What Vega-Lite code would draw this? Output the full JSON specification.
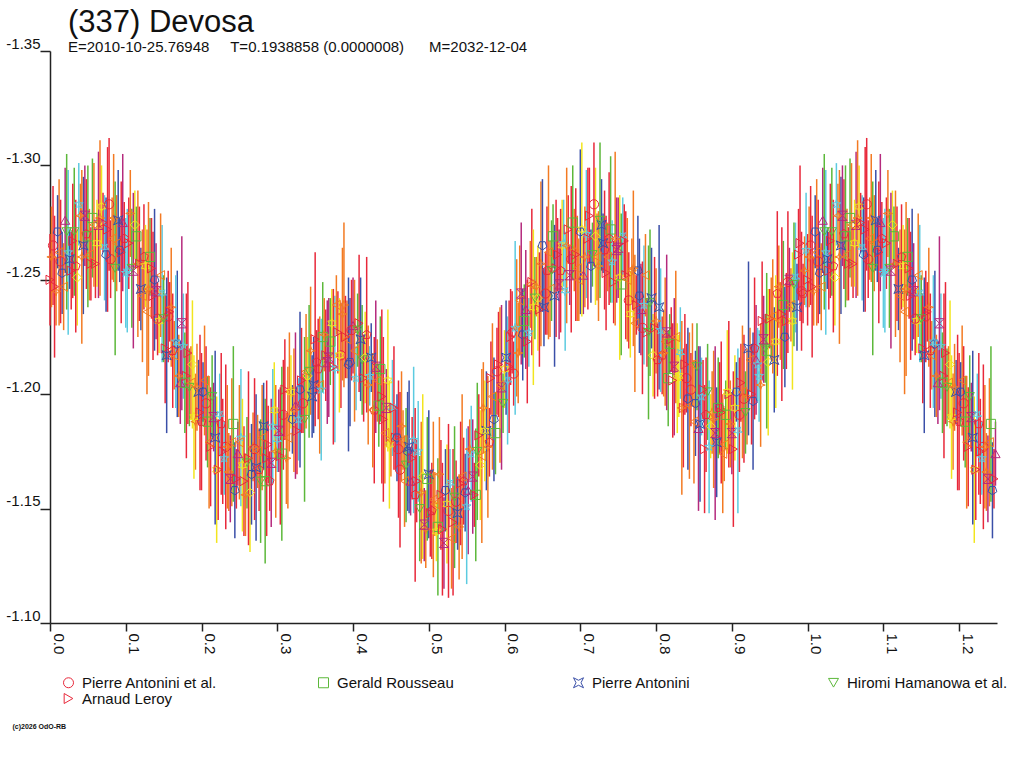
{
  "$schema": "https://vega.github.io/schema/vega-lite/v6.json",
  "width": 947,
  "height": 572,
  "autosize": {"type": "none"},
  "padding": {"left": 50, "top": 51, "right": 27, "bottom": 145},
  "background": "white",
  "config": {
    "view": {"stroke": null},
    "font": "Liberation Sans",
    "axis": {"domainColor": "#222", "domainWidth": 1.5, "tickColor": "#222", "tickWidth": 1.5, "labelColor": "#111", "labelFont": "Liberation Sans", "labelFontSize": 15, "grid": false}
  },
  "title": {
    "text": "(337) Devosa",
    "subtitle": "E=2010-10-25.76948\u00a0\u00a0\u00a0\u00a0\u00a0T=0.1938858 (0.0000008)\u00a0\u00a0\u00a0\u00a0\u00a0\u00a0M=2032-12-04",
    "anchor": "start",
    "frame": "group",
    "dx": 18,
    "offset": -20,
    "font": "Liberation Sans",
    "fontSize": 31,
    "fontWeight": "normal",
    "color": "#111",
    "subtitleFont": "Liberation Sans",
    "subtitleFontSize": 15,
    "subtitleColor": "#111",
    "subtitlePadding": 1
  },
  "data": {
    "values": [
      {"p":0.000,"m":-1.250,"e":0.020,"s":"r"},{"p":0.004,"m":-1.265,"e":0.026,"s":"a"},{"p":0.008,"m":-1.245,"e":0.015,"s":"e"},{"p":0.012,"m":-1.262,"e":0.032,"s":"n"},
      {"p":0.016,"m":-1.253,"e":0.018,"s":"k"},{"p":0.020,"m":-1.276,"e":0.023,"s":"g"},{"p":0.024,"m":-1.262,"e":0.036,"s":"d"},{"p":0.028,"m":-1.254,"e":0.017,"s":"r"},
      {"p":0.032,"m":-1.271,"e":0.028,"s":"i"},{"p":0.036,"m":-1.251,"e":0.021,"s":"c"},{"p":0.040,"m":-1.278,"e":0.014,"s":"e"},{"p":0.044,"m":-1.265,"e":0.030,"s":"f"},
      {"p":0.048,"m":-1.270,"e":0.024,"s":"h"},{"p":0.052,"m":-1.261,"e":0.020,"s":"n"},{"p":0.056,"m":-1.277,"e":0.026,"s":"b"},{"p":0.060,"m":-1.257,"e":0.015,"s":"r"},
      {"p":0.064,"m":-1.274,"e":0.032,"s":"l"},{"p":0.068,"m":-1.282,"e":0.018,"s":"j"},{"p":0.072,"m":-1.264,"e":0.023,"s":"m"},{"p":0.076,"m":-1.272,"e":0.036,"s":"r"},
      {"p":0.080,"m":-1.259,"e":0.017,"s":"a"},{"p":0.084,"m":-1.277,"e":0.028,"s":"e"},{"p":0.088,"m":-1.266,"e":0.021,"s":"n"},{"p":0.092,"m":-1.263,"e":0.014,"s":"k"},
      {"p":0.096,"m":-1.275,"e":0.030,"s":"g"},{"p":0.100,"m":-1.253,"e":0.024,"s":"d"},{"p":0.104,"m":-1.266,"e":0.020,"s":"r"},{"p":0.108,"m":-1.255,"e":0.026,"s":"i"},
      {"p":0.112,"m":-1.274,"e":0.015,"s":"c"},{"p":0.116,"m":-1.257,"e":0.032,"s":"e"},{"p":0.120,"m":-1.246,"e":0.018,"s":"f"},{"p":0.124,"m":-1.260,"e":0.023,"s":"h"},
      {"p":0.128,"m":-1.236,"e":0.036,"s":"n"},{"p":0.132,"m":-1.260,"e":0.017,"s":"b"},{"p":0.136,"m":-1.243,"e":0.028,"s":"r"},{"p":0.140,"m":-1.245,"e":0.021,"s":"l"},
      {"p":0.144,"m":-1.232,"e":0.014,"s":"j"},{"p":0.148,"m":-1.244,"e":0.030,"s":"m"},{"p":0.152,"m":-1.220,"e":0.024,"s":"r"},{"p":0.156,"m":-1.234,"e":0.020,"s":"a"},
      {"p":0.160,"m":-1.238,"e":0.026,"s":"e"},{"p":0.164,"m":-1.217,"e":0.015,"s":"n"},{"p":0.168,"m":-1.222,"e":0.032,"s":"k"},{"p":0.172,"m":-1.205,"e":0.018,"s":"g"},
      {"p":0.176,"m":-1.221,"e":0.023,"s":"d"},{"p":0.180,"m":-1.208,"e":0.036,"s":"r"},{"p":0.184,"m":-1.203,"e":0.017,"s":"i"},{"p":0.188,"m":-1.213,"e":0.028,"s":"c"},
      {"p":0.192,"m":-1.188,"e":0.021,"s":"e"},{"p":0.196,"m":-1.201,"e":0.014,"s":"f"},{"p":0.200,"m":-1.188,"e":0.030,"s":"h"},{"p":0.204,"m":-1.206,"e":0.024,"s":"n"},
      {"p":0.208,"m":-1.188,"e":0.020,"s":"b"},{"p":0.212,"m":-1.177,"e":0.026,"s":"r"},{"p":0.216,"m":-1.190,"e":0.015,"s":"l"},{"p":0.220,"m":-1.167,"e":0.032,"s":"j"},
      {"p":0.224,"m":-1.191,"e":0.018,"s":"m"},{"p":0.228,"m":-1.175,"e":0.023,"s":"r"},{"p":0.232,"m":-1.177,"e":0.036,"s":"a"},{"p":0.236,"m":-1.166,"e":0.017,"s":"e"},
      {"p":0.240,"m":-1.179,"e":0.028,"s":"n"},{"p":0.244,"m":-1.158,"e":0.021,"s":"k"},{"p":0.248,"m":-1.174,"e":0.014,"s":"g"},{"p":0.252,"m":-1.181,"e":0.030,"s":"d"},
      {"p":0.256,"m":-1.162,"e":0.024,"s":"r"},{"p":0.260,"m":-1.170,"e":0.020,"s":"i"},{"p":0.264,"m":-1.157,"e":0.026,"s":"c"},{"p":0.268,"m":-1.177,"e":0.015,"s":"e"},
      {"p":0.272,"m":-1.168,"e":0.032,"s":"f"},{"p":0.276,"m":-1.167,"e":0.018,"s":"h"},{"p":0.280,"m":-1.181,"e":0.023,"s":"n"},{"p":0.284,"m":-1.162,"e":0.036,"s":"b"},
      {"p":0.288,"m":-1.178,"e":0.017,"s":"r"},{"p":0.292,"m":-1.170,"e":0.028,"s":"l"},{"p":0.296,"m":-1.193,"e":0.021,"s":"j"},{"p":0.300,"m":-1.180,"e":0.014,"s":"m"},
      {"p":0.304,"m":-1.173,"e":0.030,"s":"r"},{"p":0.308,"m":-1.191,"e":0.024,"s":"a"},{"p":0.312,"m":-1.172,"e":0.020,"s":"e"},{"p":0.316,"m":-1.201,"e":0.026,"s":"n"},
      {"p":0.320,"m":-1.189,"e":0.015,"s":"k"},{"p":0.324,"m":-1.195,"e":0.032,"s":"g"},{"p":0.328,"m":-1.189,"e":0.018,"s":"d"},{"p":0.332,"m":-1.206,"e":0.023,"s":"r"},
      {"p":0.336,"m":-1.189,"e":0.036,"s":"i"},{"p":0.340,"m":-1.208,"e":0.017,"s":"c"},{"p":0.344,"m":-1.219,"e":0.028,"s":"e"},{"p":0.348,"m":-1.204,"e":0.021,"s":"f"},
      {"p":0.352,"m":-1.214,"e":0.014,"s":"h"},{"p":0.356,"m":-1.204,"e":0.030,"s":"n"},{"p":0.360,"m":-1.225,"e":0.024,"s":"b"},{"p":0.364,"m":-1.217,"e":0.020,"s":"r"},
      {"p":0.368,"m":-1.216,"e":0.026,"s":"l"},{"p":0.372,"m":-1.231,"e":0.015,"s":"j"},{"p":0.376,"m":-1.211,"e":0.032,"s":"m"},{"p":0.380,"m":-1.227,"e":0.018,"s":"r"},
      {"p":0.384,"m":-1.217,"e":0.023,"s":"a"},{"p":0.388,"m":-1.239,"e":0.036,"s":"e"},{"p":0.392,"m":-1.224,"e":0.017,"s":"n"},{"p":0.396,"m":-1.214,"e":0.028,"s":"k"},
      {"p":0.400,"m":-1.230,"e":0.021,"s":"g"},{"p":0.404,"m":-1.207,"e":0.014,"s":"d"},{"p":0.408,"m":-1.231,"e":0.030,"s":"r"},{"p":0.412,"m":-1.215,"e":0.024,"s":"i"},
      {"p":0.416,"m":-1.216,"e":0.020,"s":"c"},{"p":0.420,"m":-1.204,"e":0.026,"s":"e"},{"p":0.424,"m":-1.216,"e":0.015,"s":"f"},{"p":0.428,"m":-1.193,"e":0.032,"s":"h"},
      {"p":0.432,"m":-1.206,"e":0.018,"s":"n"},{"p":0.436,"m":-1.211,"e":0.023,"s":"b"},{"p":0.440,"m":-1.189,"e":0.036,"s":"r"},{"p":0.444,"m":-1.194,"e":0.017,"s":"l"},
      {"p":0.448,"m":-1.178,"e":0.028,"s":"j"},{"p":0.452,"m":-1.194,"e":0.021,"s":"m"},{"p":0.456,"m":-1.181,"e":0.014,"s":"r"},{"p":0.460,"m":-1.176,"e":0.030,"s":"a"},
      {"p":0.464,"m":-1.186,"e":0.024,"s":"e"},{"p":0.468,"m":-1.162,"e":0.020,"s":"n"},{"p":0.472,"m":-1.175,"e":0.026,"s":"k"},{"p":0.476,"m":-1.162,"e":0.015,"s":"g"},
      {"p":0.480,"m":-1.180,"e":0.032,"s":"d"},{"p":0.484,"m":-1.162,"e":0.018,"s":"r"},{"p":0.488,"m":-1.150,"e":0.023,"s":"i"},{"p":0.492,"m":-1.164,"e":0.036,"s":"c"},
      {"p":0.496,"m":-1.141,"e":0.017,"s":"e"},{"p":0.500,"m":-1.165,"e":0.028,"s":"f"},{"p":0.504,"m":-1.149,"e":0.021,"s":"h"},{"p":0.508,"m":-1.152,"e":0.014,"s":"n"},
      {"p":0.512,"m":-1.142,"e":0.030,"s":"b"},{"p":0.516,"m":-1.156,"e":0.024,"s":"r"},{"p":0.520,"m":-1.135,"e":0.020,"s":"l"},{"p":0.524,"m":-1.152,"e":0.026,"s":"j"},
      {"p":0.528,"m":-1.161,"e":0.015,"s":"m"},{"p":0.532,"m":-1.144,"e":0.032,"s":"r"},{"p":0.536,"m":-1.153,"e":0.018,"s":"a"},{"p":0.540,"m":-1.142,"e":0.023,"s":"e"},
      {"p":0.544,"m":-1.164,"e":0.036,"s":"n"},{"p":0.548,"m":-1.157,"e":0.017,"s":"k"},{"p":0.552,"m":-1.158,"e":0.028,"s":"g"},{"p":0.556,"m":-1.174,"e":0.021,"s":"d"},
      {"p":0.560,"m":-1.156,"e":0.014,"s":"r"},{"p":0.564,"m":-1.175,"e":0.030,"s":"i"},{"p":0.568,"m":-1.169,"e":0.024,"s":"c"},{"p":0.572,"m":-1.194,"e":0.020,"s":"e"},
      {"p":0.576,"m":-1.184,"e":0.026,"s":"f"},{"p":0.580,"m":-1.179,"e":0.015,"s":"h"},{"p":0.584,"m":-1.199,"e":0.032,"s":"n"},{"p":0.588,"m":-1.183,"e":0.018,"s":"b"},
      {"p":0.592,"m":-1.213,"e":0.023,"s":"r"},{"p":0.596,"m":-1.203,"e":0.036,"s":"l"},{"p":0.600,"m":-1.211,"e":0.017,"s":"j"},{"p":0.604,"m":-1.206,"e":0.028,"s":"m"},
      {"p":0.608,"m":-1.225,"e":0.021,"s":"r"},{"p":0.612,"m":-1.209,"e":0.014,"s":"a"},{"p":0.616,"m":-1.229,"e":0.030,"s":"e"},{"p":0.620,"m":-1.241,"e":0.024,"s":"n"},
      {"p":0.624,"m":-1.226,"e":0.020,"s":"k"},{"p":0.628,"m":-1.237,"e":0.026,"s":"g"},{"p":0.632,"m":-1.227,"e":0.015,"s":"d"},{"p":0.636,"m":-1.249,"e":0.032,"s":"r"},
      {"p":0.640,"m":-1.242,"e":0.018,"s":"i"},{"p":0.644,"m":-1.242,"e":0.023,"s":"c"},{"p":0.648,"m":-1.257,"e":0.036,"s":"e"},{"p":0.652,"m":-1.238,"e":0.017,"s":"f"},
      {"p":0.656,"m":-1.254,"e":0.028,"s":"h"},{"p":0.660,"m":-1.246,"e":0.021,"s":"n"},{"p":0.664,"m":-1.269,"e":0.014,"s":"b"},{"p":0.668,"m":-1.255,"e":0.030,"s":"r"},
      {"p":0.672,"m":-1.248,"e":0.024,"s":"l"},{"p":0.676,"m":-1.265,"e":0.020,"s":"j"},{"p":0.680,"m":-1.245,"e":0.026,"s":"m"},{"p":0.684,"m":-1.272,"e":0.015,"s":"r"},
      {"p":0.688,"m":-1.259,"e":0.032,"s":"a"},{"p":0.692,"m":-1.263,"e":0.018,"s":"e"},{"p":0.696,"m":-1.255,"e":0.023,"s":"n"},{"p":0.700,"m":-1.271,"e":0.036,"s":"k"},
      {"p":0.704,"m":-1.252,"e":0.017,"s":"g"},{"p":0.708,"m":-1.270,"e":0.028,"s":"d"},{"p":0.712,"m":-1.278,"e":0.021,"s":"r"},{"p":0.716,"m":-1.261,"e":0.014,"s":"i"},
      {"p":0.720,"m":-1.269,"e":0.030,"s":"c"},{"p":0.724,"m":-1.256,"e":0.024,"s":"e"},{"p":0.728,"m":-1.274,"e":0.020,"s":"f"},{"p":0.732,"m":-1.263,"e":0.026,"s":"h"},
      {"p":0.736,"m":-1.260,"e":0.015,"s":"n"},{"p":0.740,"m":-1.272,"e":0.032,"s":"b"},{"p":0.744,"m":-1.249,"e":0.018,"s":"r"},{"p":0.748,"m":-1.263,"e":0.023,"s":"l"},
      {"p":0.752,"m":-1.251,"e":0.036,"s":"j"},{"p":0.756,"m":-1.269,"e":0.017,"s":"m"},{"p":0.760,"m":-1.252,"e":0.028,"s":"r"},{"p":0.764,"m":-1.241,"e":0.021,"s":"a"},
      {"p":0.768,"m":-1.254,"e":0.014,"s":"e"},{"p":0.772,"m":-1.231,"e":0.030,"s":"n"},{"p":0.776,"m":-1.254,"e":0.024,"s":"k"},{"p":0.780,"m":-1.237,"e":0.020,"s":"g"},
      {"p":0.784,"m":-1.239,"e":0.026,"s":"d"},{"p":0.788,"m":-1.227,"e":0.015,"s":"r"},{"p":0.792,"m":-1.240,"e":0.032,"s":"i"},{"p":0.796,"m":-1.217,"e":0.018,"s":"c"},
      {"p":0.800,"m":-1.232,"e":0.023,"s":"e"},{"p":0.804,"m":-1.238,"e":0.036,"s":"f"},{"p":0.808,"m":-1.217,"e":0.017,"s":"h"},{"p":0.812,"m":-1.223,"e":0.028,"s":"n"},
      {"p":0.816,"m":-1.207,"e":0.021,"s":"b"},{"p":0.820,"m":-1.224,"e":0.014,"s":"r"},{"p":0.824,"m":-1.212,"e":0.030,"s":"l"},{"p":0.828,"m":-1.207,"e":0.024,"s":"j"},
      {"p":0.832,"m":-1.218,"e":0.020,"s":"m"},{"p":0.836,"m":-1.194,"e":0.026,"s":"r"},{"p":0.840,"m":-1.207,"e":0.015,"s":"a"},{"p":0.844,"m":-1.195,"e":0.032,"s":"e"},
      {"p":0.848,"m":-1.213,"e":0.018,"s":"n"},{"p":0.852,"m":-1.196,"e":0.023,"s":"k"},{"p":0.856,"m":-1.185,"e":0.036,"s":"g"},{"p":0.860,"m":-1.199,"e":0.017,"s":"d"},
      {"p":0.864,"m":-1.176,"e":0.028,"s":"r"},{"p":0.868,"m":-1.201,"e":0.021,"s":"i"},{"p":0.872,"m":-1.186,"e":0.014,"s":"c"},{"p":0.876,"m":-1.189,"e":0.030,"s":"e"},
      {"p":0.880,"m":-1.179,"e":0.024,"s":"f"},{"p":0.884,"m":-1.194,"e":0.020,"s":"h"},{"p":0.888,"m":-1.174,"e":0.026,"s":"n"},{"p":0.892,"m":-1.191,"e":0.015,"s":"b"},
      {"p":0.896,"m":-1.200,"e":0.032,"s":"r"},{"p":0.900,"m":-1.183,"e":0.018,"s":"l"},{"p":0.904,"m":-1.194,"e":0.023,"s":"j"},{"p":0.908,"m":-1.184,"e":0.036,"s":"m"},
      {"p":0.912,"m":-1.205,"e":0.017,"s":"r"},{"p":0.916,"m":-1.198,"e":0.028,"s":"a"},{"p":0.920,"m":-1.199,"e":0.021,"s":"e"},{"p":0.924,"m":-1.215,"e":0.014,"s":"n"},
      {"p":0.928,"m":-1.197,"e":0.030,"s":"k"},{"p":0.932,"m":-1.215,"e":0.024,"s":"g"},{"p":0.936,"m":-1.208,"e":0.020,"s":"d"},{"p":0.940,"m":-1.232,"e":0.026,"s":"r"},
      {"p":0.944,"m":-1.220,"e":0.015,"s":"i"},{"p":0.948,"m":-1.214,"e":0.032,"s":"c"},{"p":0.952,"m":-1.233,"e":0.018,"s":"e"},{"p":0.956,"m":-1.215,"e":0.023,"s":"f"},
      {"p":0.960,"m":-1.244,"e":0.036,"s":"h"},{"p":0.964,"m":-1.232,"e":0.017,"s":"n"},{"p":0.968,"m":-1.239,"e":0.028,"s":"b"},{"p":0.972,"m":-1.232,"e":0.021,"s":"r"},
      {"p":0.976,"m":-1.250,"e":0.014,"s":"l"},{"p":0.980,"m":-1.232,"e":0.030,"s":"j"},{"p":0.984,"m":-1.251,"e":0.024,"s":"m"},{"p":0.988,"m":-1.261,"e":0.020,"s":"r"},
      {"p":0.992,"m":-1.245,"e":0.026,"s":"a"},{"p":0.996,"m":-1.254,"e":0.015,"s":"e"},
      {"p":1.000,"m":-1.250,"e":0.020,"s":"r"},{"p":1.004,"m":-1.265,"e":0.026,"s":"a"},{"p":1.008,"m":-1.245,"e":0.015,"s":"e"},{"p":1.012,"m":-1.262,"e":0.032,"s":"n"},
      {"p":1.016,"m":-1.253,"e":0.018,"s":"k"},{"p":1.020,"m":-1.276,"e":0.023,"s":"g"},{"p":1.024,"m":-1.262,"e":0.036,"s":"d"},{"p":1.028,"m":-1.254,"e":0.017,"s":"r"},
      {"p":1.032,"m":-1.271,"e":0.028,"s":"i"},{"p":1.036,"m":-1.251,"e":0.021,"s":"c"},{"p":1.040,"m":-1.278,"e":0.014,"s":"e"},{"p":1.044,"m":-1.265,"e":0.030,"s":"f"},
      {"p":1.048,"m":-1.270,"e":0.024,"s":"h"},{"p":1.052,"m":-1.261,"e":0.020,"s":"n"},{"p":1.056,"m":-1.277,"e":0.026,"s":"b"},{"p":1.060,"m":-1.257,"e":0.015,"s":"r"},
      {"p":1.064,"m":-1.274,"e":0.032,"s":"l"},{"p":1.068,"m":-1.282,"e":0.018,"s":"j"},{"p":1.072,"m":-1.264,"e":0.023,"s":"m"},{"p":1.076,"m":-1.272,"e":0.036,"s":"r"},
      {"p":1.080,"m":-1.259,"e":0.017,"s":"a"},{"p":1.084,"m":-1.277,"e":0.028,"s":"e"},{"p":1.088,"m":-1.266,"e":0.021,"s":"n"},{"p":1.092,"m":-1.263,"e":0.014,"s":"k"},
      {"p":1.096,"m":-1.275,"e":0.030,"s":"g"},{"p":1.100,"m":-1.253,"e":0.024,"s":"d"},{"p":1.104,"m":-1.266,"e":0.020,"s":"r"},{"p":1.108,"m":-1.255,"e":0.026,"s":"i"},
      {"p":1.112,"m":-1.274,"e":0.015,"s":"c"},{"p":1.116,"m":-1.257,"e":0.032,"s":"e"},{"p":1.120,"m":-1.246,"e":0.018,"s":"f"},{"p":1.124,"m":-1.260,"e":0.023,"s":"h"},
      {"p":1.128,"m":-1.236,"e":0.036,"s":"n"},{"p":1.132,"m":-1.260,"e":0.017,"s":"b"},{"p":1.136,"m":-1.243,"e":0.028,"s":"r"},{"p":1.140,"m":-1.245,"e":0.021,"s":"l"},
      {"p":1.144,"m":-1.232,"e":0.014,"s":"j"},{"p":1.148,"m":-1.244,"e":0.030,"s":"m"},{"p":1.152,"m":-1.220,"e":0.024,"s":"r"},{"p":1.156,"m":-1.234,"e":0.020,"s":"a"},
      {"p":1.160,"m":-1.238,"e":0.026,"s":"e"},{"p":1.164,"m":-1.217,"e":0.015,"s":"n"},{"p":1.168,"m":-1.222,"e":0.032,"s":"k"},{"p":1.172,"m":-1.205,"e":0.018,"s":"g"},
      {"p":1.176,"m":-1.221,"e":0.023,"s":"d"},{"p":1.180,"m":-1.208,"e":0.036,"s":"r"},{"p":1.184,"m":-1.203,"e":0.017,"s":"i"},{"p":1.188,"m":-1.213,"e":0.028,"s":"c"},
      {"p":1.192,"m":-1.188,"e":0.021,"s":"e"},{"p":1.196,"m":-1.201,"e":0.014,"s":"f"},{"p":1.200,"m":-1.188,"e":0.030,"s":"h"},{"p":1.204,"m":-1.206,"e":0.024,"s":"n"},
      {"p":1.208,"m":-1.188,"e":0.020,"s":"b"},{"p":1.212,"m":-1.177,"e":0.026,"s":"r"},{"p":1.216,"m":-1.190,"e":0.015,"s":"l"},{"p":1.220,"m":-1.167,"e":0.032,"s":"j"},
      {"p":1.224,"m":-1.191,"e":0.018,"s":"m"},{"p":1.228,"m":-1.175,"e":0.023,"s":"r"},{"p":1.232,"m":-1.177,"e":0.036,"s":"a"},{"p":1.236,"m":-1.166,"e":0.017,"s":"e"},
      {"p":1.240,"m":-1.179,"e":0.028,"s":"n"},{"p":1.244,"m":-1.158,"e":0.021,"s":"k"},{"p":1.248,"m":-1.174,"e":0.014,"s":"g"},
      {"p":0.002,"m":-1.260,"e":0.022,"s":"e"},{"p":0.006,"m":-1.247,"e":0.031,"s":"r"},{"p":0.010,"m":-1.271,"e":0.016,"s":"k"},{"p":0.014,"m":-1.258,"e":0.027,"s":"a"},
      {"p":0.018,"m":-1.247,"e":0.019,"s":"n"},{"p":0.022,"m":-1.271,"e":0.034,"s":"i"},{"p":0.026,"m":-1.259,"e":0.013,"s":"f"},{"p":0.030,"m":-1.267,"e":0.025,"s":"r"},
      {"p":0.034,"m":-1.256,"e":0.029,"s":"h"},{"p":0.038,"m":-1.283,"e":0.018,"s":"d"},{"p":0.042,"m":-1.260,"e":0.038,"s":"e"},{"p":0.046,"m":-1.278,"e":0.022,"s":"l"},
      {"p":0.050,"m":-1.269,"e":0.031,"s":"b"},{"p":0.054,"m":-1.257,"e":0.016,"s":"r"},{"p":0.058,"m":-1.274,"e":0.027,"s":"n"},{"p":0.062,"m":-1.266,"e":0.019,"s":"j"},
      {"p":0.066,"m":-1.277,"e":0.034,"s":"e"},{"p":0.070,"m":-1.275,"e":0.013,"s":"r"},{"p":0.074,"m":-1.261,"e":0.025,"s":"k"},{"p":0.078,"m":-1.283,"e":0.029,"s":"a"},
      {"p":0.082,"m":-1.268,"e":0.018,"s":"n"},{"p":0.086,"m":-1.255,"e":0.038,"s":"i"},{"p":0.090,"m":-1.276,"e":0.022,"s":"f"},{"p":0.094,"m":-1.262,"e":0.031,"s":"r"},
      {"p":0.098,"m":-1.268,"e":0.016,"s":"h"},{"p":0.102,"m":-1.254,"e":0.027,"s":"d"},{"p":0.106,"m":-1.279,"e":0.019,"s":"e"},{"p":0.110,"m":-1.254,"e":0.034,"s":"l"},
      {"p":0.114,"m":-1.269,"e":0.013,"s":"b"},{"p":0.118,"m":-1.257,"e":0.025,"s":"r"},{"p":0.122,"m":-1.243,"e":0.029,"s":"n"},{"p":0.126,"m":-1.256,"e":0.018,"s":"j"},
      {"p":0.130,"m":-1.246,"e":0.038,"s":"e"},{"p":0.134,"m":-1.255,"e":0.022,"s":"r"},{"p":0.138,"m":-1.250,"e":0.031,"s":"k"},{"p":0.142,"m":-1.233,"e":0.016,"s":"a"},
      {"p":0.146,"m":-1.252,"e":0.027,"s":"n"},{"p":0.150,"m":-1.233,"e":0.019,"s":"i"},{"p":0.154,"m":-1.217,"e":0.034,"s":"f"},{"p":0.158,"m":-1.236,"e":0.013,"s":"r"},
      {"p":0.162,"m":-1.219,"e":0.025,"s":"h"},{"p":0.166,"m":-1.223,"e":0.029,"s":"d"},{"p":0.170,"m":-1.208,"e":0.018,"s":"e"},{"p":0.174,"m":-1.231,"e":0.038,"s":"l"},
      {"p":0.178,"m":-1.205,"e":0.022,"s":"b"},{"p":0.182,"m":-1.218,"e":0.031,"s":"r"},{"p":0.186,"m":-1.205,"e":0.016,"s":"n"},{"p":0.190,"m":-1.190,"e":0.027,"s":"j"},
      {"p":0.194,"m":-1.203,"e":0.019,"s":"e"},{"p":0.198,"m":-1.192,"e":0.034,"s":"r"},{"p":0.202,"m":-1.201,"e":0.013,"s":"k"},{"p":0.206,"m":-1.196,"e":0.025,"s":"a"},
      {"p":0.210,"m":-1.179,"e":0.029,"s":"n"},{"p":0.214,"m":-1.199,"e":0.018,"s":"i"},{"p":0.218,"m":-1.181,"e":0.038,"s":"f"},{"p":0.222,"m":-1.167,"e":0.022,"s":"r"},
      {"p":0.226,"m":-1.187,"e":0.031,"s":"h"},{"p":0.230,"m":-1.172,"e":0.016,"s":"d"},{"p":0.234,"m":-1.177,"e":0.027,"s":"e"},{"p":0.238,"m":-1.163,"e":0.019,"s":"l"},
      {"p":0.242,"m":-1.187,"e":0.034,"s":"b"},{"p":0.246,"m":-1.163,"e":0.013,"s":"r"},{"p":0.250,"m":-1.179,"e":0.025,"s":"n"},{"p":0.254,"m":-1.169,"e":0.029,"s":"j"},
      {"p":0.258,"m":-1.156,"e":0.018,"s":"e"},{"p":0.262,"m":-1.172,"e":0.038,"s":"r"},{"p":0.266,"m":-1.165,"e":0.022,"s":"k"},{"p":0.270,"m":-1.176,"e":0.031,"s":"a"},
      {"p":0.274,"m":-1.175,"e":0.016,"s":"n"},{"p":0.278,"m":-1.162,"e":0.027,"s":"i"},{"p":0.282,"m":-1.186,"e":0.019,"s":"f"},{"p":0.286,"m":-1.172,"e":0.034,"s":"r"},
      {"p":0.290,"m":-1.162,"e":0.013,"s":"h"},{"p":0.294,"m":-1.186,"e":0.025,"s":"d"},{"p":0.298,"m":-1.175,"e":0.029,"s":"e"},{"p":0.302,"m":-1.184,"e":0.018,"s":"l"},
      {"p":0.306,"m":-1.174,"e":0.038,"s":"b"},{"p":0.310,"m":-1.202,"e":0.022,"s":"r"},{"p":0.314,"m":-1.181,"e":0.031,"s":"n"},{"p":0.318,"m":-1.201,"e":0.016,"s":"j"},
      {"p":0.322,"m":-1.193,"e":0.027,"s":"e"},{"p":0.326,"m":-1.184,"e":0.019,"s":"r"},{"p":0.330,"m":-1.202,"e":0.034,"s":"k"},{"p":0.334,"m":-1.196,"e":0.013,"s":"a"},
      {"p":0.338,"m":-1.210,"e":0.025,"s":"n"},{"p":0.342,"m":-1.210,"e":0.029,"s":"i"},{"p":0.346,"m":-1.199,"e":0.018,"s":"f"},{"p":0.350,"m":-1.224,"e":0.038,"s":"r"},
      {"p":0.354,"m":-1.211,"e":0.022,"s":"h"},{"p":0.358,"m":-1.202,"e":0.031,"s":"d"},{"p":0.362,"m":-1.226,"e":0.016,"s":"e"},{"p":0.366,"m":-1.214,"e":0.027,"s":"l"},
      {"p":0.370,"m":-1.223,"e":0.019,"s":"b"},{"p":0.374,"m":-1.212,"e":0.034,"s":"r"},{"p":0.378,"m":-1.239,"e":0.013,"s":"n"},{"p":0.382,"m":-1.217,"e":0.025,"s":"j"},
      {"p":0.386,"m":-1.235,"e":0.029,"s":"e"},{"p":0.390,"m":-1.225,"e":0.018,"s":"r"},{"p":0.394,"m":-1.213,"e":0.038,"s":"k"},{"p":0.398,"m":-1.228,"e":0.022,"s":"a"},
      {"p":0.402,"m":-1.219,"e":0.031,"s":"n"},{"p":0.406,"m":-1.228,"e":0.016,"s":"i"},{"p":0.410,"m":-1.224,"e":0.027,"s":"f"},{"p":0.414,"m":-1.207,"e":0.019,"s":"r"},
      {"p":0.418,"m":-1.226,"e":0.034,"s":"h"},{"p":0.422,"m":-1.208,"e":0.013,"s":"d"},{"p":0.426,"m":-1.193,"e":0.025,"s":"e"},{"p":0.430,"m":-1.212,"e":0.029,"s":"l"},
      {"p":0.434,"m":-1.195,"e":0.018,"s":"b"},{"p":0.438,"m":-1.199,"e":0.038,"s":"r"},{"p":0.442,"m":-1.183,"e":0.022,"s":"n"},{"p":0.446,"m":-1.206,"e":0.031,"s":"j"},
      {"p":0.450,"m":-1.180,"e":0.016,"s":"e"},{"p":0.454,"m":-1.194,"e":0.027,"s":"r"},{"p":0.458,"m":-1.181,"e":0.019,"s":"k"},{"p":0.462,"m":-1.167,"e":0.034,"s":"a"},
      {"p":0.466,"m":-1.180,"e":0.013,"s":"n"},{"p":0.470,"m":-1.169,"e":0.025,"s":"i"},{"p":0.474,"m":-1.177,"e":0.029,"s":"f"},{"p":0.478,"m":-1.172,"e":0.018,"s":"r"},
      {"p":0.482,"m":-1.156,"e":0.038,"s":"h"},{"p":0.486,"m":-1.175,"e":0.022,"s":"d"},{"p":0.490,"m":-1.157,"e":0.031,"s":"e"},{"p":0.494,"m":-1.143,"e":0.016,"s":"l"},
      {"p":0.498,"m":-1.163,"e":0.027,"s":"b"},{"p":0.502,"m":-1.148,"e":0.019,"s":"r"},{"p":0.506,"m":-1.154,"e":0.034,"s":"n"},{"p":0.510,"m":-1.140,"e":0.013,"s":"j"},
      {"p":0.514,"m":-1.165,"e":0.025,"s":"e"},{"p":0.518,"m":-1.141,"e":0.029,"s":"r"},{"p":0.522,"m":-1.158,"e":0.018,"s":"k"},{"p":0.526,"m":-1.149,"e":0.038,"s":"a"},
      {"p":0.530,"m":-1.137,"e":0.022,"s":"n"},{"p":0.534,"m":-1.155,"e":0.031,"s":"i"},{"p":0.538,"m":-1.148,"e":0.016,"s":"f"},{"p":0.542,"m":-1.161,"e":0.027,"s":"r"},
      {"p":0.546,"m":-1.162,"e":0.019,"s":"h"},{"p":0.550,"m":-1.151,"e":0.034,"s":"d"},{"p":0.554,"m":-1.176,"e":0.013,"s":"e"},{"p":0.558,"m":-1.164,"e":0.025,"s":"l"},
      {"p":0.562,"m":-1.156,"e":0.029,"s":"b"},{"p":0.566,"m":-1.182,"e":0.018,"s":"r"},{"p":0.570,"m":-1.173,"e":0.038,"s":"n"},{"p":0.574,"m":-1.184,"e":0.022,"s":"j"},
      {"p":0.578,"m":-1.177,"e":0.031,"s":"e"},{"p":0.582,"m":-1.207,"e":0.016,"s":"r"},{"p":0.586,"m":-1.189,"e":0.027,"s":"k"},{"p":0.590,"m":-1.210,"e":0.019,"s":"a"},
      {"p":0.594,"m":-1.204,"e":0.034,"s":"n"},{"p":0.598,"m":-1.196,"e":0.013,"s":"i"},{"p":0.602,"m":-1.216,"e":0.025,"s":"f"},{"p":0.606,"m":-1.212,"e":0.029,"s":"r"},
      {"p":0.610,"m":-1.227,"e":0.018,"s":"h"},{"p":0.614,"m":-1.229,"e":0.038,"s":"d"},{"p":0.618,"m":-1.218,"e":0.022,"s":"e"},{"p":0.622,"m":-1.244,"e":0.031,"s":"l"},
      {"p":0.626,"m":-1.232,"e":0.016,"s":"b"},{"p":0.630,"m":-1.223,"e":0.027,"s":"r"},{"p":0.634,"m":-1.248,"e":0.019,"s":"n"},{"p":0.638,"m":-1.238,"e":0.034,"s":"j"},
      {"p":0.642,"m":-1.247,"e":0.013,"s":"e"},{"p":0.646,"m":-1.237,"e":0.025,"s":"r"},{"p":0.650,"m":-1.265,"e":0.029,"s":"k"},{"p":0.654,"m":-1.244,"e":0.018,"s":"a"},
      {"p":0.658,"m":-1.262,"e":0.038,"s":"n"},{"p":0.662,"m":-1.254,"e":0.022,"s":"i"},{"p":0.666,"m":-1.243,"e":0.031,"s":"f"},{"p":0.670,"m":-1.261,"e":0.016,"s":"r"},
      {"p":0.674,"m":-1.254,"e":0.027,"s":"h"},{"p":0.678,"m":-1.266,"e":0.019,"s":"d"},{"p":0.682,"m":-1.265,"e":0.034,"s":"e"},{"p":0.686,"m":-1.252,"e":0.013,"s":"l"},
      {"p":0.690,"m":-1.275,"e":0.025,"s":"b"},{"p":0.694,"m":-1.261,"e":0.029,"s":"r"},{"p":0.698,"m":-1.250,"e":0.018,"s":"n"},{"p":0.702,"m":-1.272,"e":0.038,"s":"j"},
      {"p":0.706,"m":-1.260,"e":0.022,"s":"e"},{"p":0.710,"m":-1.268,"e":0.031,"s":"r"},{"p":0.714,"m":-1.256,"e":0.016,"s":"k"},{"p":0.718,"m":-1.283,"e":0.027,"s":"a"},
      {"p":0.722,"m":-1.260,"e":0.019,"s":"n"},{"p":0.726,"m":-1.276,"e":0.034,"s":"i"},{"p":0.730,"m":-1.266,"e":0.013,"s":"f"},{"p":0.734,"m":-1.253,"e":0.025,"s":"r"},
      {"p":0.738,"m":-1.268,"e":0.029,"s":"h"},{"p":0.742,"m":-1.258,"e":0.018,"s":"d"},{"p":0.746,"m":-1.268,"e":0.038,"s":"e"},{"p":0.750,"m":-1.264,"e":0.022,"s":"l"},
      {"p":0.754,"m":-1.248,"e":0.031,"s":"b"},{"p":0.758,"m":-1.267,"e":0.016,"s":"r"},{"p":0.762,"m":-1.250,"e":0.027,"s":"n"},{"p":0.766,"m":-1.235,"e":0.019,"s":"j"},
      {"p":0.770,"m":-1.255,"e":0.034,"s":"e"},{"p":0.774,"m":-1.239,"e":0.013,"s":"r"},{"p":0.778,"m":-1.243,"e":0.025,"s":"k"},{"p":0.782,"m":-1.229,"e":0.029,"s":"a"},
      {"p":0.786,"m":-1.252,"e":0.018,"s":"n"},{"p":0.790,"m":-1.227,"e":0.038,"s":"i"},{"p":0.794,"m":-1.242,"e":0.022,"s":"f"},{"p":0.798,"m":-1.229,"e":0.031,"s":"r"},
      {"p":0.802,"m":-1.215,"e":0.016,"s":"h"},{"p":0.806,"m":-1.228,"e":0.027,"s":"d"},{"p":0.810,"m":-1.218,"e":0.019,"s":"e"},{"p":0.814,"m":-1.227,"e":0.034,"s":"l"},
      {"p":0.818,"m":-1.222,"e":0.013,"s":"b"},{"p":0.822,"m":-1.206,"e":0.025,"s":"r"},{"p":0.826,"m":-1.225,"e":0.029,"s":"n"},{"p":0.830,"m":-1.208,"e":0.018,"s":"j"},
      {"p":0.834,"m":-1.194,"e":0.038,"s":"e"},{"p":0.838,"m":-1.213,"e":0.022,"s":"r"},{"p":0.842,"m":-1.198,"e":0.031,"s":"k"},{"p":0.846,"m":-1.202,"e":0.016,"s":"a"},
      {"p":0.850,"m":-1.188,"e":0.027,"s":"n"},{"p":0.854,"m":-1.212,"e":0.019,"s":"i"},{"p":0.858,"m":-1.187,"e":0.034,"s":"f"},{"p":0.862,"m":-1.202,"e":0.013,"s":"r"},
      {"p":0.866,"m":-1.191,"e":0.025,"s":"h"},{"p":0.870,"m":-1.177,"e":0.029,"s":"d"},{"p":0.874,"m":-1.192,"e":0.018,"s":"e"},{"p":0.878,"m":-1.183,"e":0.038,"s":"l"},
      {"p":0.882,"m":-1.194,"e":0.022,"s":"b"},{"p":0.886,"m":-1.192,"e":0.031,"s":"r"},{"p":0.890,"m":-1.178,"e":0.016,"s":"n"},{"p":0.894,"m":-1.201,"e":0.027,"s":"j"},
      {"p":0.898,"m":-1.187,"e":0.019,"s":"e"},{"p":0.902,"m":-1.176,"e":0.034,"s":"r"},{"p":0.906,"m":-1.201,"e":0.013,"s":"k"},{"p":0.910,"m":-1.191,"e":0.025,"s":"a"},
      {"p":0.914,"m":-1.201,"e":0.029,"s":"n"},{"p":0.918,"m":-1.192,"e":0.018,"s":"i"},{"p":0.922,"m":-1.220,"e":0.038,"s":"f"},{"p":0.926,"m":-1.200,"e":0.022,"s":"r"},
      {"p":0.930,"m":-1.220,"e":0.031,"s":"h"},{"p":0.934,"m":-1.213,"e":0.016,"s":"d"},{"p":0.938,"m":-1.204,"e":0.027,"s":"e"},{"p":0.942,"m":-1.224,"e":0.019,"s":"l"},
      {"p":0.946,"m":-1.219,"e":0.034,"s":"b"},{"p":0.950,"m":-1.233,"e":0.013,"s":"r"},{"p":0.954,"m":-1.234,"e":0.025,"s":"n"},{"p":0.958,"m":-1.223,"e":0.029,"s":"j"},
      {"p":0.962,"m":-1.247,"e":0.018,"s":"e"},{"p":0.966,"m":-1.235,"e":0.038,"s":"r"},{"p":0.970,"m":-1.225,"e":0.022,"s":"k"},{"p":0.974,"m":-1.249,"e":0.031,"s":"a"},
      {"p":0.978,"m":-1.239,"e":0.016,"s":"n"},{"p":0.982,"m":-1.248,"e":0.027,"s":"i"},{"p":0.986,"m":-1.238,"e":0.019,"s":"f"},{"p":0.990,"m":-1.266,"e":0.034,"s":"r"},
      {"p":0.994,"m":-1.244,"e":0.013,"s":"h"},{"p":0.998,"m":-1.263,"e":0.025,"s":"d"},
      {"p":1.002,"m":-1.260,"e":0.022,"s":"e"},{"p":1.006,"m":-1.247,"e":0.031,"s":"r"},{"p":1.010,"m":-1.271,"e":0.016,"s":"k"},{"p":1.014,"m":-1.258,"e":0.027,"s":"a"},
      {"p":1.018,"m":-1.247,"e":0.019,"s":"n"},{"p":1.022,"m":-1.271,"e":0.034,"s":"i"},{"p":1.026,"m":-1.259,"e":0.013,"s":"f"},{"p":1.030,"m":-1.267,"e":0.025,"s":"r"},
      {"p":1.034,"m":-1.256,"e":0.029,"s":"h"},{"p":1.038,"m":-1.283,"e":0.018,"s":"d"},{"p":1.042,"m":-1.260,"e":0.038,"s":"e"},{"p":1.046,"m":-1.278,"e":0.022,"s":"l"},
      {"p":1.050,"m":-1.269,"e":0.031,"s":"b"},{"p":1.054,"m":-1.257,"e":0.016,"s":"r"},{"p":1.058,"m":-1.274,"e":0.027,"s":"n"},{"p":1.062,"m":-1.266,"e":0.019,"s":"j"},
      {"p":1.066,"m":-1.277,"e":0.034,"s":"e"},{"p":1.070,"m":-1.275,"e":0.013,"s":"r"},{"p":1.074,"m":-1.261,"e":0.025,"s":"k"},{"p":1.078,"m":-1.283,"e":0.029,"s":"a"},
      {"p":1.082,"m":-1.268,"e":0.018,"s":"n"},{"p":1.086,"m":-1.255,"e":0.038,"s":"i"},{"p":1.090,"m":-1.276,"e":0.022,"s":"f"},{"p":1.094,"m":-1.262,"e":0.031,"s":"r"},
      {"p":1.098,"m":-1.268,"e":0.016,"s":"h"},{"p":1.102,"m":-1.254,"e":0.027,"s":"d"},{"p":1.106,"m":-1.279,"e":0.019,"s":"e"},{"p":1.110,"m":-1.254,"e":0.034,"s":"l"},
      {"p":1.114,"m":-1.269,"e":0.013,"s":"b"},{"p":1.118,"m":-1.257,"e":0.025,"s":"r"},{"p":1.122,"m":-1.243,"e":0.029,"s":"n"},{"p":1.126,"m":-1.256,"e":0.018,"s":"j"},
      {"p":1.130,"m":-1.246,"e":0.038,"s":"e"},{"p":1.134,"m":-1.255,"e":0.022,"s":"r"},{"p":1.138,"m":-1.250,"e":0.031,"s":"k"},{"p":1.142,"m":-1.233,"e":0.016,"s":"a"},
      {"p":1.146,"m":-1.252,"e":0.027,"s":"n"},{"p":1.150,"m":-1.233,"e":0.019,"s":"i"},{"p":1.154,"m":-1.217,"e":0.034,"s":"f"},{"p":1.158,"m":-1.236,"e":0.013,"s":"r"},
      {"p":1.162,"m":-1.219,"e":0.025,"s":"h"},{"p":1.166,"m":-1.223,"e":0.029,"s":"d"},{"p":1.170,"m":-1.208,"e":0.018,"s":"e"},{"p":1.174,"m":-1.231,"e":0.038,"s":"l"},
      {"p":1.178,"m":-1.205,"e":0.022,"s":"b"},{"p":1.182,"m":-1.218,"e":0.031,"s":"r"},{"p":1.186,"m":-1.205,"e":0.016,"s":"n"},{"p":1.190,"m":-1.190,"e":0.027,"s":"j"},
      {"p":1.194,"m":-1.203,"e":0.019,"s":"e"},{"p":1.198,"m":-1.192,"e":0.034,"s":"r"},{"p":1.202,"m":-1.201,"e":0.013,"s":"k"},{"p":1.206,"m":-1.196,"e":0.025,"s":"a"},
      {"p":1.210,"m":-1.179,"e":0.029,"s":"n"},{"p":1.214,"m":-1.199,"e":0.018,"s":"i"},{"p":1.218,"m":-1.181,"e":0.038,"s":"f"},{"p":1.222,"m":-1.167,"e":0.022,"s":"r"},
      {"p":1.226,"m":-1.187,"e":0.031,"s":"h"},{"p":1.230,"m":-1.172,"e":0.016,"s":"d"},{"p":1.234,"m":-1.177,"e":0.027,"s":"e"},{"p":1.238,"m":-1.163,"e":0.019,"s":"l"},
      {"p":1.242,"m":-1.187,"e":0.034,"s":"b"},{"p":1.246,"m":-1.163,"e":0.013,"s":"r"}
    ]
  },
  "layer": [
    {
      "mark": {"type": "errorbar", "thickness": 1.5},
      "encoding": {
        "x": {
          "field": "p", "type": "quantitative",
          "scale": {"domain": [0, 1.25], "nice": false, "zero": false},
          "axis": {
            "values": [0, 0.05, 0.1, 0.15, 0.2, 0.25, 0.3, 0.35, 0.4, 0.45, 0.5, 0.55, 0.6, 0.65, 0.7, 0.75, 0.8, 0.85, 0.9, 0.95, 1, 1.05, 1.1, 1.15, 1.2, 1.25],
            "labelExpr": "round(datum.value * 20) % 2 == 0 ? format(datum.value, '.1f') : ''",
            "labelAngle": 90, "labelAlign": "left", "labelBaseline": "bottom",
            "labelPadding": 2, "tickSize": 8, "labelFlush": false, "labelOverlap": false,
            "title": "(c)2026 OdO-RB", "titleFontSize": 7, "titleFont": "Liberation Sans", "titleFontWeight": "bold",
            "titleColor": "#111", "titleX": -38, "titleY": 105, "titleAlign": "left", "titleAngle": 0, "titleBaseline": "alphabetic"
          }
        },
        "y": {
          "field": "m", "type": "quantitative",
          "scale": {"domain": [-1.35, -1.1], "reverse": true, "nice": false, "zero": false},
          "axis": {
            "values": [-1.35, -1.3, -1.25, -1.2, -1.15, -1.1],
            "labelExpr": "'-' + format(abs(datum.value), '.2f')",
            "tickSize": 10, "labelPadding": 0, "labelBaseline": "bottom", "labelFlush": false, "title": null
          }
        },
        "yError": {"field": "e"},
        "color": {
          "field": "s", "type": "nominal", "legend": null,
          "scale": {
            "domain": ["a", "b", "c", "d", "e", "f", "g", "h", "i", "j", "k", "l", "m", "n", "r"],
            "range": ["#e8283a", "#5cb83a", "#f2e51e", "#5ccbe0", "#f37a22", "#3a4fa8", "#b52a7d", "#e8283a", "#5cb83a", "#f2e51e", "#3a4fa8", "#b52a7d", "#5ccbe0", "#f37a22", "#e8283a"]
          }
        }
      }
    },
    {
      "mark": {"type": "point", "filled": false, "size": 85, "strokeWidth": 1, "opacity": 1},
      "encoding": {
        "x": {"field": "p", "type": "quantitative"},
        "y": {"field": "m", "type": "quantitative"},
        "color": {
          "field": "s", "type": "nominal", "legend": null,
          "scale": {
            "domain": ["a", "b", "c", "d", "e", "f", "g", "h", "i", "j", "k", "l", "m", "n", "r"],
            "range": ["#e8283a", "#5cb83a", "#f2e51e", "#5ccbe0", "#f37a22", "#3a4fa8", "#b52a7d", "#e8283a", "#5cb83a", "#f2e51e", "#3a4fa8", "#b52a7d", "#5ccbe0", "#f37a22", "#e8283a"]
          }
        },
        "shape": {
          "field": "s", "type": "nominal", "legend": null,
          "scale": {
            "domain": ["a", "b", "c", "d", "e", "f", "g", "h", "i", "j", "k", "l", "m", "n", "r"],
            "range": [
              "circle", "square", "diamond",
              "M0,-1L0.24,-0.31L0.95,-0.31L0.38,0.12L0.59,0.81L0,0.4L-0.59,0.81L-0.38,0.12L-0.95,-0.31L-0.24,-0.31Z",
              "M0,-1L0.25,-0.25L1,0L0.25,0.25L0,1L-0.25,0.25L-1,0L-0.25,-0.25Z",
              "M-1,-1L0,-0.5L1,-1L0.5,0L1,1L0,0.5L-1,1L-0.5,0Z",
              "triangle-up",
              "M0,-1L0.95,-0.31L0.59,0.81L-0.59,0.81L-0.95,-0.31Z",
              "triangle-down",
              "M0,-1L0.29,-0.5L0.87,-0.5L0.58,0L0.87,0.5L0.29,0.5L0,1L-0.29,0.5L-0.87,0.5L-0.58,0L-0.87,-0.5L-0.29,-0.5Z",
              "M-0.95,0.31L-0.59,-0.81L0.59,-0.81L0.95,0.31L0,1Z",
              "M-1,-1L1,-1L0,0ZM0,0L-1,1L1,1Z",
              "M0,1L0.24,0.31L0.95,0.31L0.38,-0.12L0.59,-0.81L0,-0.4L-0.59,-0.81L-0.38,-0.12L-0.95,0.31L-0.24,0.31Z",
              "triangle-left", "triangle-right"
            ]
          }
        }
      }
    },
    {
      "data": {"values": [
        {"o": "Pierre Antonini et al."},
        {"o": "Gerald Rousseau"},
        {"o": "Pierre Antonini"},
        {"o": "Hiromi Hamanowa et al."},
        {"o": "Arnaud Leroy"}
      ]},
      "mark": {"type": "point", "filled": false, "opacity": 0},
      "encoding": {
        "color": {
          "field": "o", "type": "nominal",
          "scale": {
            "domain": ["Pierre Antonini et al.", "Gerald Rousseau", "Pierre Antonini", "Hiromi Hamanowa et al.", "Arnaud Leroy"],
            "range": ["#e8283a", "#5cb83a", "#3a4fa8", "#5cb83a", "#e8283a"]
          },
          "legend": {
            "orient": "none", "legendX": 11, "legendY": 624, "direction": "horizontal", "columns": 4,
            "title": null, "labelFont": "Liberation Sans", "labelFontSize": 15, "labelColor": "#111", "labelOffset": 6, "labelLimit": 400,
            "symbolSize": 100, "symbolStrokeWidth": 1, "symbolOpacity": 1, "columnPadding": 73, "rowPadding": 0, "gridAlign": "all", "padding": 0
          }
        },
        "shape": {
          "field": "o", "type": "nominal",
          "scale": {
            "domain": ["Pierre Antonini et al.", "Gerald Rousseau", "Pierre Antonini", "Hiromi Hamanowa et al.", "Arnaud Leroy"],
            "range": ["circle", "square", "M-1,-1L0,-0.5L1,-1L0.5,0L1,1L0,0.5L-1,1L-0.5,0Z", "triangle-down", "triangle-right"]
          }
        }
      }
    }
  ],
  "resolve": {"scale": {"color": "independent", "shape": "independent"}}
}
